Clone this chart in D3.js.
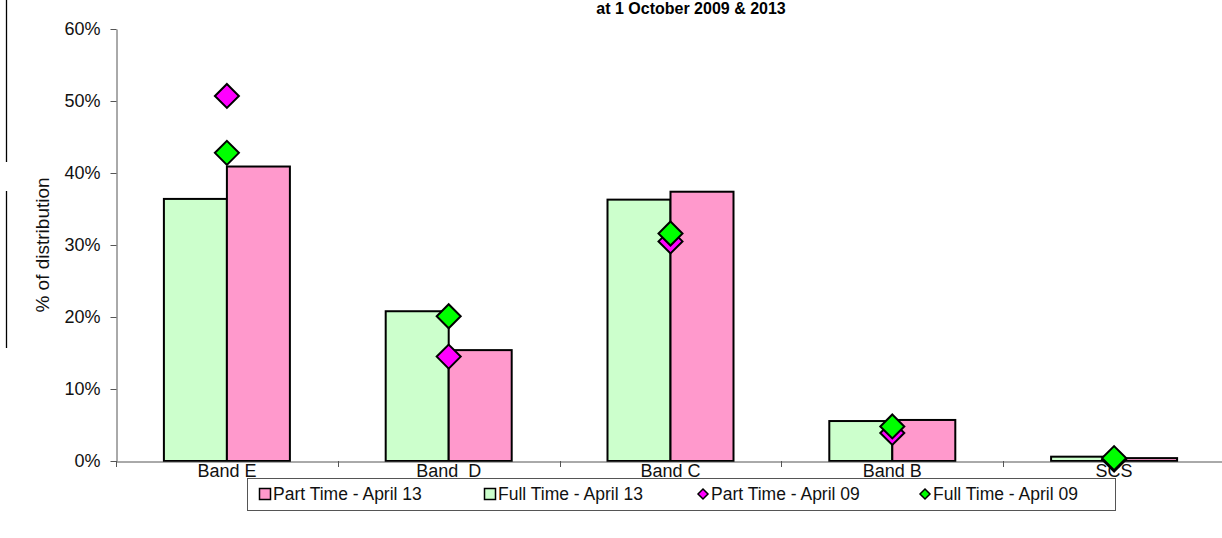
<!DOCTYPE html>
<html>
<head>
<meta charset="utf-8">
<script src="https://cdn.jsdelivr.net/npm/d3@7/dist/d3.min.js"></script>
<style>
  html, body { margin: 0; padding: 0; background: #fff; }
  svg { display: block; font-family: "Liberation Sans", Arial, sans-serif; }
</style>
</head>
<body>
<svg id="chart" width="1222" height="538"></svg>
<script>
// Grade bands and their share of staff
const categories = ["Band E", "Band  D", "Band C", "Band B", "SCS"];
const fullTime13 = [0.364, 0.208, 0.363, 0.0555, 0.006];
const partTime13 = [0.409, 0.154, 0.374, 0.057, 0.004];
const partTime09 = [0.507, 0.145, 0.305, 0.039, 0.002];
const fullTime09 = [0.428, 0.201, 0.316, 0.048, 0.004];
const yTicks = [0, 0.1, 0.2, 0.3, 0.4, 0.5, 0.6];

const FONT = "Liberation Sans, Arial, sans-serif";

const svg = d3.select("#chart");

const x = d3.scaleBand().domain(categories).range([116, 1225]).paddingInner(0).paddingOuter(0);
const y = d3.scaleLinear().domain([0, 0.6]).range([461, 29]);
const barW = 63;

// Title (second line of the heading)
svg.append("text")
  .attr("x", 691).attr("y", 14)
  .attr("text-anchor", "middle")
  .attr("font-size", 16).attr("font-weight", "bold")
  .text("at 1 October 2009 & 2013");

// Left frame fragments
svg.append("line").attr("x1", 6.5).attr("x2", 6.5).attr("y1", 0).attr("y2", 162)
  .attr("stroke", "#000").attr("stroke-width", 1.3);
svg.append("line").attr("x1", 6.5).attr("x2", 6.5).attr("y1", 191).attr("y2", 348)
  .attr("stroke", "#000").attr("stroke-width", 1.3);

// Y axis
const yAxis = svg.append("g").attr("transform", "translate(116.5,0)")
  .call(d3.axisLeft(y).tickValues(yTicks).tickFormat(d3.format(".0%")).tickSize(6).tickSizeOuter(0).tickPadding(10));
yAxis.select(".domain").attr("stroke", "#555");
yAxis.selectAll(".tick line").attr("stroke", "#555");
yAxis.selectAll(".tick text").attr("font-size", 18).attr("fill", "#111").attr("font-family", FONT);

svg.append("text")
  .attr("transform", "translate(49,245) rotate(-90)")
  .attr("text-anchor", "middle")
  .attr("font-size", 19).attr("fill", "#111")
  .text("% of distribution");

// Bars
const g = svg.append("g");
categories.forEach((c, i) => {
  const cx = x(c) + x.bandwidth() / 2;
  g.append("rect")
    .attr("x", cx - barW).attr("y", y(fullTime13[i]))
    .attr("width", barW).attr("height", y(0) - y(fullTime13[i]))
    .attr("fill", "#CCFFCC").attr("stroke", "#000").attr("stroke-width", 2);
  g.append("rect")
    .attr("x", cx).attr("y", y(partTime13[i]))
    .attr("width", barW).attr("height", y(0) - y(partTime13[i]))
    .attr("fill", "#FF99CC").attr("stroke", "#000").attr("stroke-width", 2);
});

// X axis
const xAxis = svg.append("g").attr("transform", "translate(0,461.5)")
  .call(d3.axisBottom(x).tickSize(0).tickPadding(3));
xAxis.select(".domain").attr("stroke", "#555");
xAxis.selectAll(".tick text").attr("font-size", 18).attr("fill", "#111").attr("font-family", FONT)
  .style("white-space", "pre").attr("xml:space", "preserve");
// boundary ticks between bands
const bounds = categories.map(c => x(c));
svg.append("g").selectAll("line").data(bounds).join("line")
  .attr("x1", d => Math.round(d) + 0.5).attr("x2", d => Math.round(d) + 0.5)
  .attr("y1", 461).attr("y2", 467)
  .attr("stroke", "#555");

// Diamond markers
const diamond = (cx, cy, r) => `M${cx},${cy - r}L${cx + r},${cy}L${cx},${cy + r}L${cx - r},${cy}Z`;
const markerGroup = svg.append("g");
[[partTime09, "#FF00FF"], [fullTime09, "#00FF00"]].forEach(([vals, col]) => {
  categories.forEach((c, i) => {
    const cx = x(c) + x.bandwidth() / 2;
    markerGroup.append("path")
      .attr("d", diamond(cx, y(vals[i]), 12))
      .attr("fill", col).attr("stroke", "#000").attr("stroke-width", 2).attr("stroke-linejoin", "miter");
  });
});

// Legend
const legend = svg.append("g");
legend.append("rect").attr("x", 247.5).attr("y", 478.5).attr("width", 868).attr("height", 32)
  .attr("fill", "#fff").attr("stroke", "#555").attr("stroke-width", 1);
const legendItems = [
  { label: "Part Time - April 13", kind: "rect", color: "#FF99CC", x: 265 },
  { label: "Full Time - April 13", kind: "rect", color: "#CCFFCC", x: 490 },
  { label: "Part Time - April 09", kind: "diamond", color: "#FF00FF", x: 703 },
  { label: "Full Time - April 09", kind: "diamond", color: "#00FF00", x: 925 }
];
legendItems.forEach(it => {
  const cy = 494;
  if (it.kind === "rect") {
    legend.append("rect").attr("x", it.x - 5.5).attr("y", cy - 5.5).attr("width", 11).attr("height", 11)
      .attr("fill", it.color).attr("stroke", "#000").attr("stroke-width", 1.5);
  } else {
    legend.append("path").attr("d", diamond(it.x, cy, 5))
      .attr("fill", it.color).attr("stroke", "#000").attr("stroke-width", 1.5);
  }
  legend.append("text").attr("x", it.x + 8).attr("y", cy + 6)
    .attr("font-size", 17.5).attr("fill", "#111")
    .text(it.label);
});
</script>
</body>
</html>
